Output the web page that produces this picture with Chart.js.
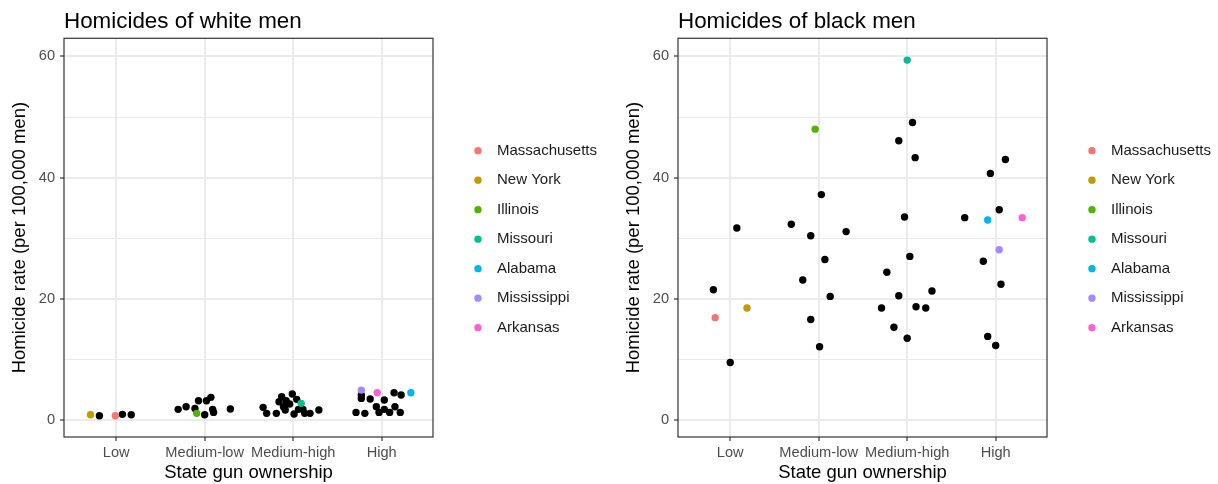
<!DOCTYPE html>
<html>
<head>
<meta charset="utf-8">
<title>Homicides by state gun ownership</title>
<script src="https://cdn.jsdelivr.net/npm/chart.js"></script>
<style>
  html, body { margin: 0; padding: 0; background: #fff; }
  #wrap { position: relative; width: 1218px; height: 484px; }
  canvas { position: absolute; top: 0; }
  #white { left: 0; }
  #black { left: 614px; }
</style>
</head>
<body>
<div id="wrap">
  <canvas id="white" width="604" height="484"></canvas>
  <canvas id="black" width="604" height="484"></canvas>
</div>
<script>
const categories = ['Low', 'Medium-low', 'Medium-high', 'High'];
const yTicks = [0, 10, 20, 30, 40, 50, 60];
const states = ['Massachusetts', 'New York', 'Illinois', 'Missouri', 'Alabama', 'Mississippi', 'Arkansas'];
const stateColors = ['#F8766D', '#C49A00', '#53B400', '#00C094', '#00B6EB', '#A58AFF', '#FB61D7'];

// white men: highlighted states (jittered group position, rate)
const whiteStateX = [0.99, 0.71, 1.91, 3.09, 4.33, 3.77, 3.95];
const whiteStateY = [0.71, 0.88, 1.10, 2.75, 4.50, 4.94, 4.50];
// white men: all other states
const whiteOtherX = [0.81, 1.07, 1.17,
  1.70, 1.79, 1.89, 1.93, 2.02, 2.07, 2.00, 2.09, 2.10, 2.29,
  2.66, 2.70, 2.81, 2.87, 2.84, 2.89, 2.92, 2.91, 2.99, 2.96, 3.01, 3.04, 3.06, 3.11, 3.13, 3.19, 3.29,
  3.77, 3.77, 3.71, 3.81, 3.87, 3.94, 3.97, 4.03, 4.03, 4.09, 4.15, 4.14, 4.22, 4.21];
const whiteOtherY = [0.71, 0.94, 0.88,
  1.76, 2.20, 1.92, 3.19, 3.19, 3.74, 0.88, 1.76, 1.26, 1.81,
  2.09, 1.10, 1.10, 3.85, 3.02, 2.20, 3.19, 1.65, 4.29, 2.64, 0.99, 3.41, 1.76, 1.76, 1.10, 1.10, 1.65,
  4.12, 3.57, 1.26, 1.10, 3.46, 2.20, 1.26, 3.30, 1.76, 1.26, 2.20, 4.50, 4.12, 1.26];

// black men: highlighted states
const blackStateX = [0.83, 1.19, 1.96, 3.00, 3.91, 4.04, 4.30];
const blackStateY = [16.9, 18.5, 48.0, 59.4, 33.0, 28.1, 33.4];
// black men: all other states
const blackOtherX = [1.075, 0.81, 1.00,
  1.69, 1.91, 2.31, 2.03, 2.07, 1.82, 2.13, 1.91, 2.01,
  3.06, 2.905, 3.09, 2.97, 3.03, 2.77, 3.28, 2.905, 2.71, 3.10, 3.21, 2.85, 3.00,
  3.65, 4.11, 3.94, 4.04, 3.86, 4.06, 3.91, 4.00];
const blackOtherY = [31.7, 21.5, 9.5,
  32.3, 30.4, 31.1, 37.2, 26.5, 23.1, 20.4, 16.6, 12.1,
  49.1, 46.1, 43.3, 33.5, 27.0, 24.4, 21.3, 20.5, 18.5, 18.7, 18.5, 15.3, 13.5,
  33.4, 43.0, 40.7, 34.7, 26.2, 22.4, 13.8, 12.3];

Chart.defaults.font.family = "'Liberation Sans', Arial, sans-serif";

// full box round the panel, like theme_bw
const panelBorder = {
  id: 'panelBorder',
  afterDatasetsDraw(chart) {
    const { ctx, chartArea: a } = chart;
    ctx.save();
    ctx.strokeStyle = '#333';
    ctx.lineWidth = 1.2;
    ctx.strokeRect(a.left, a.top, a.right - a.left, a.bottom - a.top);
    ctx.restore();
  }
};

// legend of the highlighted states, to the right of the panel
const sideLegend = {
  id: 'sideLegend',
  afterDraw(chart) {
    const { ctx, chartArea: a } = chart;
    const mid = (a.top + a.bottom) / 2 + 1.5;
    ctx.save();
    ctx.font = "15px 'Liberation Sans', Arial, sans-serif";
    ctx.textBaseline = 'middle';
    states.forEach((s, i) => {
      const y = mid + (i - (states.length - 1) / 2) * 29.5;
      ctx.beginPath();
      ctx.arc(a.right + 45, y, 3.7, 0, Math.PI * 2);
      ctx.fillStyle = stateColors[i];
      ctx.fill();
      ctx.fillStyle = '#1a1a1a';
      ctx.fillText(s, a.right + 64, y);
    });
    ctx.restore();
  }
};

const isMajor = c => c.tick && c.tick.value % 20 === 0;

function makeChart(id, title, stateX, stateY, otherX, otherY) {
  const datasets = states.map((s, i) => ({
    label: s,
    data: [{ x: stateX[i], y: stateY[i] }],
    backgroundColor: stateColors[i],
    order: 0
  }));
  datasets.push({
    label: 'Other states',
    data: otherX.map((x, i) => ({ x, y: otherY[i] })),
    backgroundColor: '#000',
    order: 1
  });

  return new Chart(document.getElementById(id), {
    type: 'scatter',
    data: { datasets },
    options: {
      responsive: false,
      animation: false,
      layout: { padding: { left: 0, right: 171, top: 0, bottom: 0 } },
      elements: { point: { radius: 3.7, hoverRadius: 3.7, borderWidth: 0 } },
      plugins: {
        legend: { display: false },
        tooltip: { enabled: false },
        title: {
          display: true, text: title, align: 'start', fullSize: false,
          color: '#000', font: { size: 22.4, weight: 'normal' },
          padding: { top: 8.3, bottom: 3.1 }
        }
      },
      scales: {
        x: {
          type: 'linear', min: 0.41, max: 4.58,
          afterBuildTicks: s => { s.ticks = categories.map((c, i) => ({ value: i + 1 })); },
          afterFit: s => { s.height = 47; },
          ticks: {
            callback: (v, i) => categories[i],
            color: '#4d4d4d', font: { size: 14.6 }, padding: 3,
            maxRotation: 0, autoSkip: false
          },
          grid: { color: '#ebebeb', lineWidth: 2, tickLength: 4, tickColor: '#333', tickWidth: 1.2 },
          border: { display: false },
          title: { display: true, text: 'State gun ownership', color: '#000', font: { size: 18.5 }, padding: 0 }
        },
        y: {
          min: -2.8, max: 63,
          afterBuildTicks: s => { s.ticks = yTicks.map(v => ({ value: v })); },
          afterFit: s => { s.width = 64; },
          ticks: {
            callback: v => (v % 20 === 0 ? v : ''),
            color: '#4d4d4d', font: { size: 14.6 }, padding: 5
          },
          grid: {
            color: '#ebebeb',
            lineWidth: c => (isMajor(c) ? 2 : 1),
            tickLength: 4,
            tickColor: c => (isMajor(c) ? '#333' : 'rgba(0,0,0,0)'),
            tickWidth: 1.2
          },
          border: { display: false },
          title: {
            display: true, text: 'Homicide rate (per 100,000 men)', color: '#000',
            font: { size: 18.5 }, padding: { top: 8.5, bottom: 0 }
          }
        }
      }
    },
    plugins: [panelBorder, sideLegend]
  });
}

makeChart('white', 'Homicides of white men', whiteStateX, whiteStateY, whiteOtherX, whiteOtherY);
makeChart('black', 'Homicides of black men', blackStateX, blackStateY, blackOtherX, blackOtherY);
</script>
</body>
</html>
